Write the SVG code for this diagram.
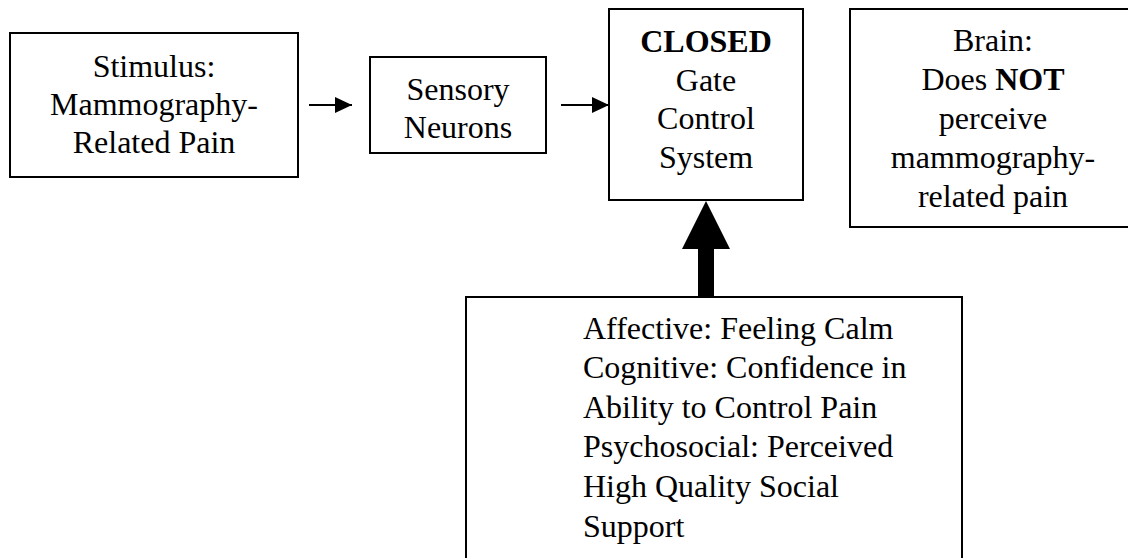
<svg xmlns="http://www.w3.org/2000/svg" width="1128" height="558" viewBox="0 0 1128 558">
<defs>
<style>
.box{fill:#fff;stroke:#000;stroke-width:2}
.t{font-family:"Liberation Serif","Times New Roman",serif;font-size:32px;fill:#000}
.c{text-anchor:middle}
.b{font-weight:bold}
.conn{stroke:#000;stroke-width:2;fill:none}
</style>
<marker id="ah" markerUnits="userSpaceOnUse" markerWidth="18" markerHeight="18" refX="17" refY="8" orient="auto" viewBox="0 0 18 16">
<polygon points="0,0 17,8 0,16" fill="#000"/>
</marker>
</defs>
<rect width="1128" height="558" fill="#fff"/>
<g id="stimulus">
<rect class="box" x="10" y="33" width="288" height="144"/>
<text class="t c" x="154" y="77">Stimulus:</text>
<text class="t c" x="154" y="115">Mammography-</text>
<text class="t c" x="154" y="153">Related Pain</text>
</g>
<g id="sensory">
<rect class="box" x="370" y="57" width="176" height="96"/>
<text class="t c" x="458" y="100">Sensory</text>
<text class="t c" x="458" y="138">Neurons</text>
</g>
<g id="gate">
<rect class="box" x="609" y="9" width="194" height="191"/>
<text class="t c b" x="706" y="52">CLOSED</text>
<text class="t c" x="706" y="91">Gate</text>
<text class="t c" x="706" y="129">Control</text>
<text class="t c" x="706" y="168">System</text>
</g>
<g id="brain">
<rect class="box" x="850" y="9" width="290" height="218"/>
<text class="t c" x="993" y="51">Brain:</text>
<text class="t c" x="993" y="90">Does <tspan class="b">NOT</tspan></text>
<text class="t c" x="993" y="129">perceive</text>
<text class="t c" x="993" y="168">mammography-</text>
<text class="t c" x="993" y="207">related pain</text>
</g>
<g id="factors">
<rect class="box" x="466" y="297" width="496" height="280"/>
<text class="t" x="583" y="339">Affective: Feeling Calm</text>
<text class="t" x="583" y="378">Cognitive: Confidence in</text>
<text class="t" x="583" y="418">Ability to Control Pain</text>
<text class="t" x="583" y="457">Psychosocial: Perceived</text>
<text class="t" x="583" y="497">High Quality Social</text>
<text class="t" x="583" y="537">Support</text>
</g>
<g id="connectors">
<line class="conn" x1="309" y1="105" x2="352" y2="105" marker-end="url(#ah)"/>
<line class="conn" x1="561" y1="105" x2="609" y2="105" marker-end="url(#ah)"/>
<polygon points="706,201 730,249 714,249 714,297 698,297 698,249 682,249" fill="#000"/>
</g>
</svg>
